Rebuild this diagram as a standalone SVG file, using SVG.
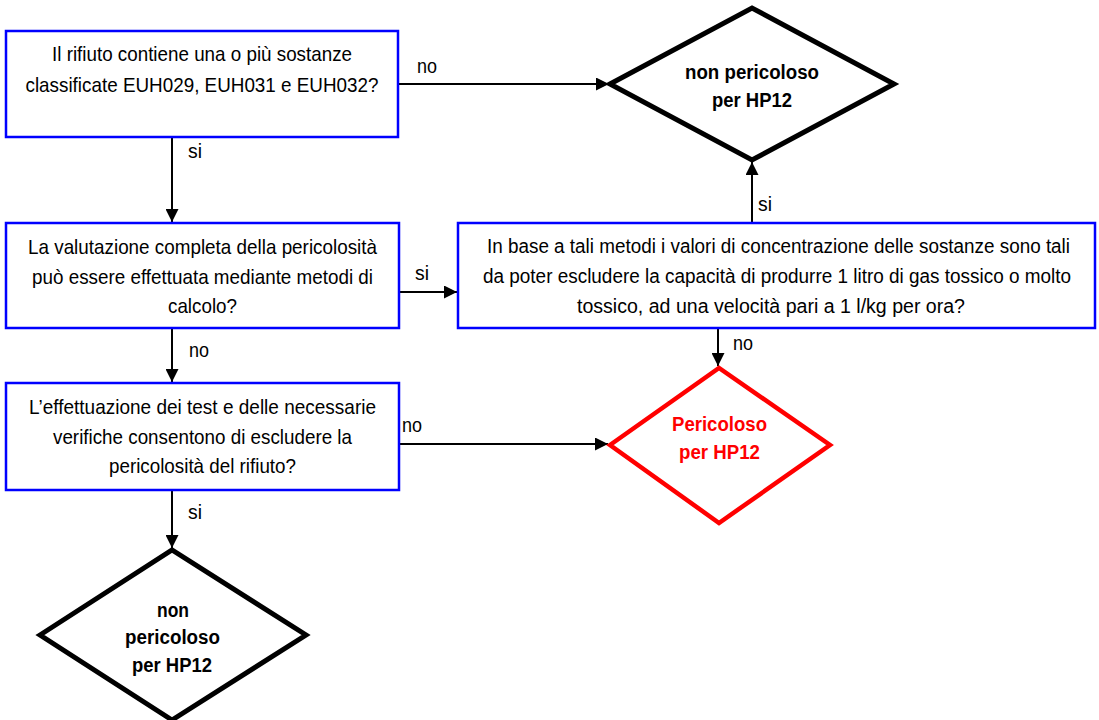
<svg xmlns="http://www.w3.org/2000/svg" width="1099" height="720" viewBox="0 0 1099 720">
<style>
.box{fill:#fff;stroke:#0000ff;stroke-width:2.5}
.dia{fill:#fff;stroke:#000;stroke-width:5;stroke-linejoin:miter}
.dia-red{fill:#fff;stroke:#ff0000;stroke-width:4.5;stroke-linejoin:miter}
.t{font-family:"Liberation Sans",Arial,sans-serif;font-size:21px;fill:#000;text-anchor:middle}
.ts{font-size:19.5px}
.b{font-family:"Liberation Sans",Arial,sans-serif;font-size:20px;font-weight:bold;fill:#000;text-anchor:middle}
.br{font-family:"Liberation Sans",Arial,sans-serif;font-size:20px;font-weight:bold;fill:#ff0000;text-anchor:middle}
.lbl{font-family:"Liberation Sans",Arial,sans-serif;font-size:20px;fill:#000}
.c{fill:none;stroke:#000;stroke-width:2}
</style>
<defs>
<marker id="arr" markerUnits="userSpaceOnUse" markerWidth="14" markerHeight="13" refX="13" refY="6.5" orient="auto">
<path d="M0,0 L13,6.5 L0,13 z" fill="#000"/>
</marker>
</defs>
<rect width="1099" height="720" fill="#fff"/>

<g id="connectors">
<line class="c" x1="398" y1="84" x2="609" y2="84" marker-end="url(#arr)"/>
<line class="c" x1="172" y1="137" x2="172" y2="222" marker-end="url(#arr)"/>
<line class="c" x1="399" y1="292" x2="457" y2="292" marker-end="url(#arr)"/>
<line class="c" x1="172" y1="328" x2="172" y2="382" marker-end="url(#arr)"/>
<line class="c" x1="399" y1="444" x2="608" y2="444" marker-end="url(#arr)"/>
<line class="c" x1="172" y1="490" x2="172" y2="548" marker-end="url(#arr)"/>
<line class="c" x1="752" y1="223" x2="752" y2="162" marker-end="url(#arr)"/>
<line class="c" x1="718" y1="328" x2="718" y2="366" marker-end="url(#arr)"/>
<text class="lbl" x="417" y="73" textLength="20" lengthAdjust="spacingAndGlyphs">no</text>
<text class="lbl" x="188" y="158" textLength="14" lengthAdjust="spacingAndGlyphs">si</text>
<text class="lbl" x="415" y="280" textLength="14" lengthAdjust="spacingAndGlyphs">si</text>
<text class="lbl" x="189" y="357" textLength="20" lengthAdjust="spacingAndGlyphs">no</text>
<text class="lbl" x="402" y="432" textLength="20" lengthAdjust="spacingAndGlyphs">no</text>
<text class="lbl" x="758" y="211" textLength="14" lengthAdjust="spacingAndGlyphs">si</text>
<text class="lbl" x="733" y="350" textLength="20" lengthAdjust="spacingAndGlyphs">no</text>
<text class="lbl" x="188" y="519" textLength="14" lengthAdjust="spacingAndGlyphs">si</text>
</g>

<g id="q1">
<rect class="box" x="6" y="31" width="392" height="106"/>
<text class="t" x="202" y="61" textLength="300" lengthAdjust="spacingAndGlyphs">Il rifiuto contiene una o più sostanze</text>
<text class="t" x="202" y="92" textLength="353" lengthAdjust="spacingAndGlyphs">classificate EUH029, EUH031 e EUH032?</text>
</g>

<g id="q2">
<rect class="box" x="6" y="223" width="393" height="105"/>
<text class="t" x="202.5" y="254" textLength="349" lengthAdjust="spacingAndGlyphs">La valutazione completa della pericolosità</text>
<text class="t" x="202.5" y="284" textLength="341" lengthAdjust="spacingAndGlyphs">può essere effettuata mediante metodi di</text>
<text class="t" x="202.5" y="313" textLength="69" lengthAdjust="spacingAndGlyphs">calcolo?</text>
</g>

<g id="q3">
<rect class="box" x="6" y="383" width="393" height="107"/>
<text class="t" x="202.5" y="414" textLength="347" lengthAdjust="spacingAndGlyphs">L’effettuazione dei test e delle necessarie</text>
<text class="t" x="202.5" y="444" textLength="299" lengthAdjust="spacingAndGlyphs">verifiche consentono di escludere la</text>
<text class="t" x="202.5" y="473" textLength="187" lengthAdjust="spacingAndGlyphs">pericolosità del rifiuto?</text>
</g>

<g id="q4">
<rect class="box" x="458" y="223" width="637" height="105"/>
<text class="t ts" x="778.5" y="253" textLength="583" lengthAdjust="spacingAndGlyphs">In base a tali metodi i valori di concentrazione delle sostanze sono tali</text>
<text class="t ts" x="777" y="283" textLength="588" lengthAdjust="spacingAndGlyphs">da poter escludere la capacità di produrre 1 litro di gas tossico o molto</text>
<text class="t ts" x="771" y="313" textLength="388" lengthAdjust="spacingAndGlyphs">tossico, ad una velocità pari a 1 l/kg per ora?</text>
</g>

<g id="end-top">
<polygon class="dia" points="610,84 752,8 894,84 752,160"/>
<text class="b" x="752" y="79" textLength="134" lengthAdjust="spacingAndGlyphs">non pericoloso</text>
<text class="b" x="752" y="107" textLength="80" lengthAdjust="spacingAndGlyphs">per HP12</text>
</g>

<g id="end-red">
<polygon class="dia-red" points="610,445 719,368 830,445 719,523"/>
<text class="br" x="719.5" y="431" textLength="95" lengthAdjust="spacingAndGlyphs">Pericoloso</text>
<text class="br" x="719.5" y="459" textLength="81" lengthAdjust="spacingAndGlyphs">per HP12</text>
</g>

<g id="end-bottom">
<polygon class="dia" points="40,635 172,550 306,635 172,720"/>
<text class="b" x="173" y="617" textLength="32" lengthAdjust="spacingAndGlyphs">non</text>
<text class="b" x="172.5" y="644" textLength="95" lengthAdjust="spacingAndGlyphs">pericoloso</text>
<text class="b" x="172" y="672" textLength="80" lengthAdjust="spacingAndGlyphs">per HP12</text>
</g>
</svg>
